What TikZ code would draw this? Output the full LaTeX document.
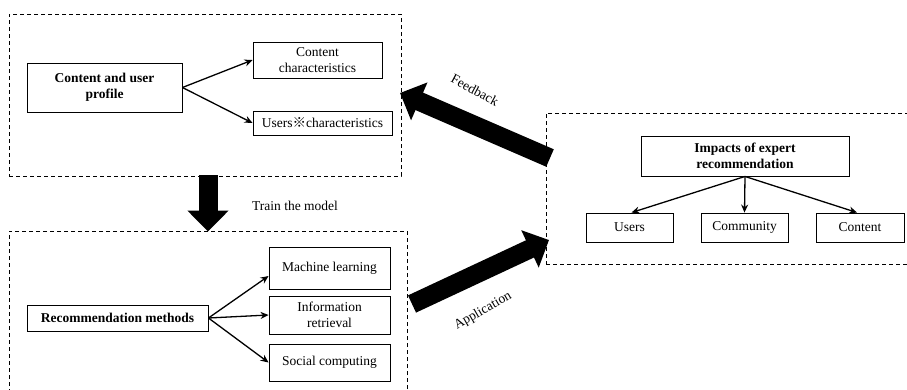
\documentclass[tikz,border=0pt]{standalone}
\usepackage{fontspec}
\setmainfont{Liberation Serif}
\newfontfamily\cjkfont{Noto Sans CJK SC}
\usetikzlibrary{arrows.meta}
\tikzset{
  box/.style={draw, line width=0.9pt, inner sep=0pt, align=center, font=\fontsize{13.5}{16}\selectfont},
  group/.style={draw, line width=0.9pt, dash pattern=on 4pt off 3pt, inner sep=0pt},
  thin/.style={line width=1.3pt, -{Stealth[length=8pt,width=7pt]}},
  bigarrow/.style={line width=19pt, -{Triangle[length=21pt,width=40pt]}},
  lbl/.style={font=\fontsize{13.5}{16}\selectfont, inner sep=0pt}
}
\begin{document}
\begin{tikzpicture}[x=1pt,y=-1pt]
\useasboundingbox (0,0) rectangle (907,389);
\clip (0,0) rectangle (907,389);
\fill[white] (0,0) rectangle (907,389);
% group boxes
\node[group, minimum width=392pt, minimum height=162pt] (top) at (205,95) {};
\node[group, minimum width=398pt, minimum height=166pt] (bot) at (208,314) {};
\node[group, minimum width=372pt, minimum height=151pt] (rgt) at (732,188.5) {};
% top group
\node[box, minimum width=155pt, minimum height=49pt] (cup) at (104.5,87.5) {\textbf{Content and user}\\\textbf{profile}};
\node[box, minimum width=129pt, minimum height=36pt] (cc) at (317.5,60) {Content\\characteristics};
\node[box, minimum width=139pt, minimum height=24pt] (uc) at (322.5,123) {Users{\cjkfont ※}characteristics};
\draw[thin] (cup.east) -- (cc.west);
\draw[thin] (cup.east) -- (uc.west);
% bottom group
\node[box, minimum width=181pt, minimum height=26pt] (rm) at (117.5,318) {\textbf{Recommendation methods}};
\node[box, minimum width=121pt, minimum height=42pt] (ml) at (329.5,268) {Machine learning};
\node[box, minimum width=121pt, minimum height=38pt] (ir) at (329.5,315) {Information\\retrieval};
\node[box, minimum width=121pt, minimum height=37pt] (sc) at (329.5,362.5) {Social computing};
\draw[thin] (rm.east) -- ([yshift=-8pt]ml.west);
\draw[thin] (rm.east) -- (ir.west);
\draw[thin] (rm.east) -- (sc.west);
% right group
\node[box, minimum width=208pt, minimum height=40pt] (imp) at (745,156) {\textbf{Impacts of expert}\\\textbf{recommendation}};
\node[box, minimum width=87pt, minimum height=29pt] (us) at (629.5,227.5) {Users};
\node[box, minimum width=87pt, minimum height=29pt] (com) at (744.5,227.5) {Community};
\node[box, minimum width=88pt, minimum height=29pt] (con) at (860,227.5) {Content};
\draw[thin] (imp.south) -- ([xshift=2pt]us.north);
\draw[thin] (imp.south) -- (com.north);
\draw[thin] (imp.south) -- ([xshift=-3pt]con.north);
% big arrows
\coordinate (dnS) at (top.south -| bot.north);
\draw[bigarrow] ([yshift=1pt]dnS) -- ([yshift=-1pt]bot.north);
\node[lbl] (train) at (295,206) {Train the model};
\coordinate (fbS) at (550,158);
\coordinate (fbE) at (400,93);
\draw[bigarrow] (fbS) -- (fbE);
\node[lbl, rotate=-28] (fbl) at (475,90) {Feedback};
\coordinate (apS) at (412,304);
\coordinate (apE) at (549,240);
\draw[bigarrow] (apS) -- (apE);
\node[lbl, rotate=30] (apl) at (483,311) {Application};
\end{tikzpicture}
\end{document}
